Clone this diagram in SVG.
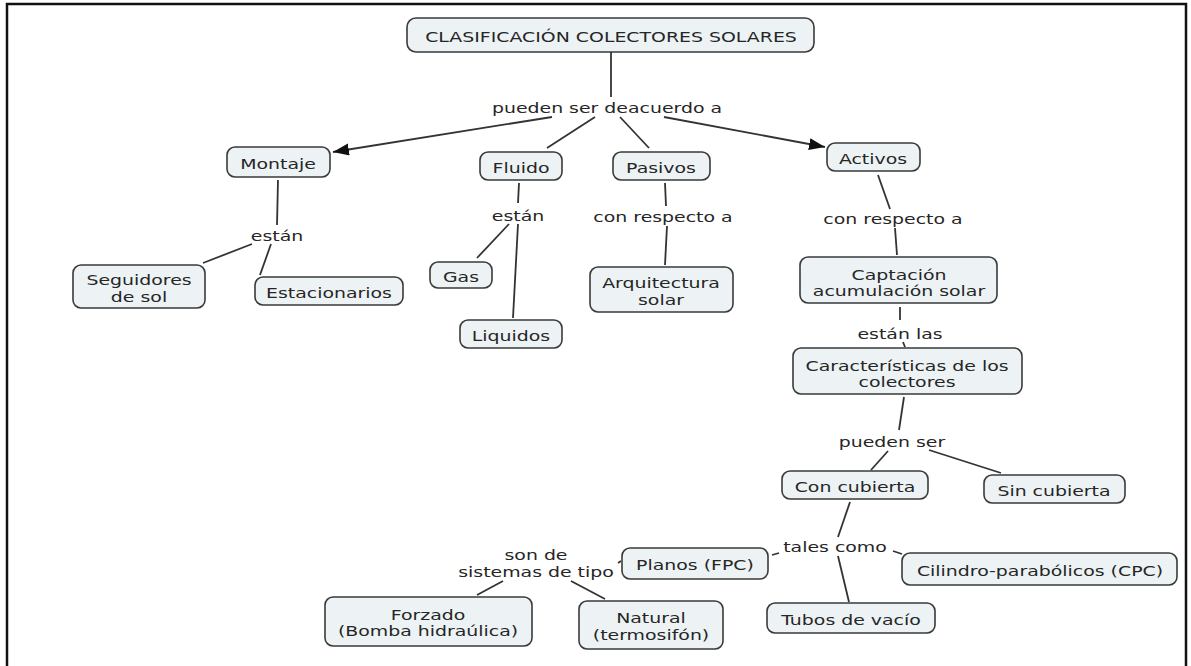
<svg xmlns="http://www.w3.org/2000/svg" width="1191" height="666" viewBox="0 0 1191 666">
<style>
.node rect{fill:#edf3f5;stroke:#3a3a3a;stroke-width:1.6}
text{font-family:"DejaVu Sans","Liberation Sans",sans-serif;font-size:14px;fill:#262626;text-anchor:middle}
.conn line{stroke:#333;stroke-width:1.8;fill:none}
</style>
<defs>
<marker id="arr" markerUnits="userSpaceOnUse" markerWidth="18" markerHeight="14" refX="16" refY="6" orient="auto">
<path d="M0,0 L16,6 L0,12 Z" fill="#111"/>
</marker>
</defs>
<rect x="0" y="0" width="1191" height="666" fill="#fff"/>
<rect x="7" y="4" width="1179" height="720" fill="none" stroke="#111" stroke-width="2.5"/>

<g class="conn">
<line x1="611" y1="52" x2="611" y2="97"/>
<line x1="552" y1="117" x2="333" y2="152" marker-end="url(#arr)"/>
<line x1="595" y1="117" x2="547" y2="148"/>
<line x1="620" y1="117" x2="649" y2="148"/>
<line x1="664" y1="117" x2="825" y2="147" marker-end="url(#arr)"/>
<line x1="278" y1="180" x2="277" y2="225"/>
<line x1="252" y1="244" x2="203" y2="263"/>
<line x1="271" y1="244" x2="260" y2="275"/>
<line x1="519" y1="183" x2="518" y2="203"/>
<line x1="509" y1="224" x2="477" y2="258"/>
<line x1="518" y1="224" x2="513" y2="318"/>
<line x1="665" y1="183" x2="666" y2="206"/>
<line x1="667" y1="226" x2="665" y2="265"/>
<line x1="878" y1="175" x2="890" y2="209"/>
<line x1="895" y1="228" x2="897" y2="255"/>
<line x1="900" y1="307" x2="900" y2="320"/>
<line x1="903" y1="342" x2="905" y2="347"/>
<line x1="904" y1="397" x2="899" y2="430"/>
<line x1="888" y1="451" x2="871" y2="470"/>
<line x1="929" y1="450" x2="1001" y2="473"/>
<line x1="850" y1="502" x2="838" y2="537"/>
<line x1="779" y1="553" x2="772" y2="555"/>
<line x1="893" y1="551" x2="902" y2="554"/>
<line x1="838" y1="556" x2="849" y2="602"/>
<line x1="621" y1="561" x2="618" y2="563"/>
<line x1="503" y1="581" x2="477" y2="595"/>
<line x1="571" y1="581" x2="605" y2="599"/>
</g>

<g id="link-labels">
<text transform="translate(607,113) scale(1.35,1)">pueden ser deacuerdo a</text>
<text transform="translate(277,241) scale(1.35,1)">están</text>
<text transform="translate(518,221) scale(1.35,1)">están</text>
<text transform="translate(663,222) scale(1.35,1)">con respecto a</text>
<text transform="translate(893,224) scale(1.35,1)">con respecto a</text>
<text transform="translate(900,339) scale(1.35,1)">están las</text>
<text transform="translate(892,447) scale(1.35,1)">pueden ser</text>
<text transform="translate(835,552) scale(1.35,1)">tales como</text>
<text transform="translate(536,560) scale(1.35,1)">son de</text>
<text transform="translate(536,577) scale(1.35,1)">sistemas de tipo</text>
</g>

<g id="n-title" class="node"><rect x="407" y="18" width="407" height="34" rx="9"/><text transform="translate(611,42) scale(1.35,1)">CLASIFICACIÓN COLECTORES SOLARES</text></g>
<g id="n-montaje" class="node"><rect x="227" y="147" width="103" height="30" rx="8"/><text transform="translate(278,169) scale(1.35,1)">Montaje</text></g>
<g id="n-fluido" class="node"><rect x="480" y="152" width="82" height="28" rx="8"/><text transform="translate(521,173) scale(1.35,1)">Fluido</text></g>
<g id="n-pasivos" class="node"><rect x="613" y="152" width="97" height="28" rx="8"/><text transform="translate(661,173) scale(1.35,1)">Pasivos</text></g>
<g id="n-activos" class="node"><rect x="827" y="143" width="93" height="28" rx="8"/><text transform="translate(873,164) scale(1.35,1)">Activos</text></g>
<g id="n-seguidores" class="node"><rect x="73" y="265" width="132" height="43" rx="8"/><text transform="translate(139,285) scale(1.35,1)">Seguidores</text><text transform="translate(139,302) scale(1.35,1)">de sol</text></g>
<g id="n-estacionarios" class="node"><rect x="255" y="277" width="148" height="28" rx="8"/><text transform="translate(329,298) scale(1.35,1)">Estacionarios</text></g>
<g id="n-gas" class="node"><rect x="430" y="262" width="62" height="26" rx="8"/><text transform="translate(461,282) scale(1.35,1)">Gas</text></g>
<g id="n-liquidos" class="node"><rect x="460" y="320" width="102" height="28" rx="8"/><text transform="translate(511,341) scale(1.35,1)">Liquidos</text></g>
<g id="n-arquitectura" class="node"><rect x="590" y="267" width="143" height="45" rx="8"/><text transform="translate(661,288) scale(1.35,1)">Arquitectura</text><text transform="translate(661,305) scale(1.35,1)">solar</text></g>
<g id="n-captacion" class="node"><rect x="800" y="257" width="197" height="46" rx="8"/><text transform="translate(899,280) scale(1.35,1)">Captación</text><text transform="translate(899,296) scale(1.35,1)">acumulación solar</text></g>
<g id="n-caracteristicas" class="node"><rect x="793" y="348" width="229" height="46" rx="8"/><text transform="translate(907,371) scale(1.35,1)">Características de los</text><text transform="translate(907,387) scale(1.35,1)">colectores</text></g>
<g id="n-con" class="node"><rect x="782" y="471" width="146" height="28" rx="8"/><text transform="translate(855,492) scale(1.35,1)">Con cubierta</text></g>
<g id="n-sin" class="node"><rect x="984" y="475" width="141" height="28" rx="8"/><text transform="translate(1054,496) scale(1.35,1)">Sin cubierta</text></g>
<g id="n-planos" class="node"><rect x="622" y="548" width="146" height="31" rx="8"/><text transform="translate(695,570) scale(1.35,1)">Planos (FPC)</text></g>
<g id="n-cilindro" class="node"><rect x="902" y="553" width="275" height="32" rx="8"/><text transform="translate(1040,576) scale(1.35,1)">Cilindro-parabólicos (CPC)</text></g>
<g id="n-tubos" class="node"><rect x="767" y="603" width="168" height="30" rx="8"/><text transform="translate(851,625) scale(1.35,1)">Tubos de vacío</text></g>
<g id="n-forzado" class="node"><rect x="325" y="597" width="207" height="49" rx="8"/><text transform="translate(428,620) scale(1.35,1)">Forzado</text><text transform="translate(428,636) scale(1.35,1)">(Bomba hidraúlica)</text></g>
<g id="n-natural" class="node"><rect x="579" y="601" width="144" height="48" rx="8"/><text transform="translate(651,623) scale(1.35,1)">Natural</text><text transform="translate(651,640) scale(1.35,1)">(termosifón)</text></g>
</svg>
